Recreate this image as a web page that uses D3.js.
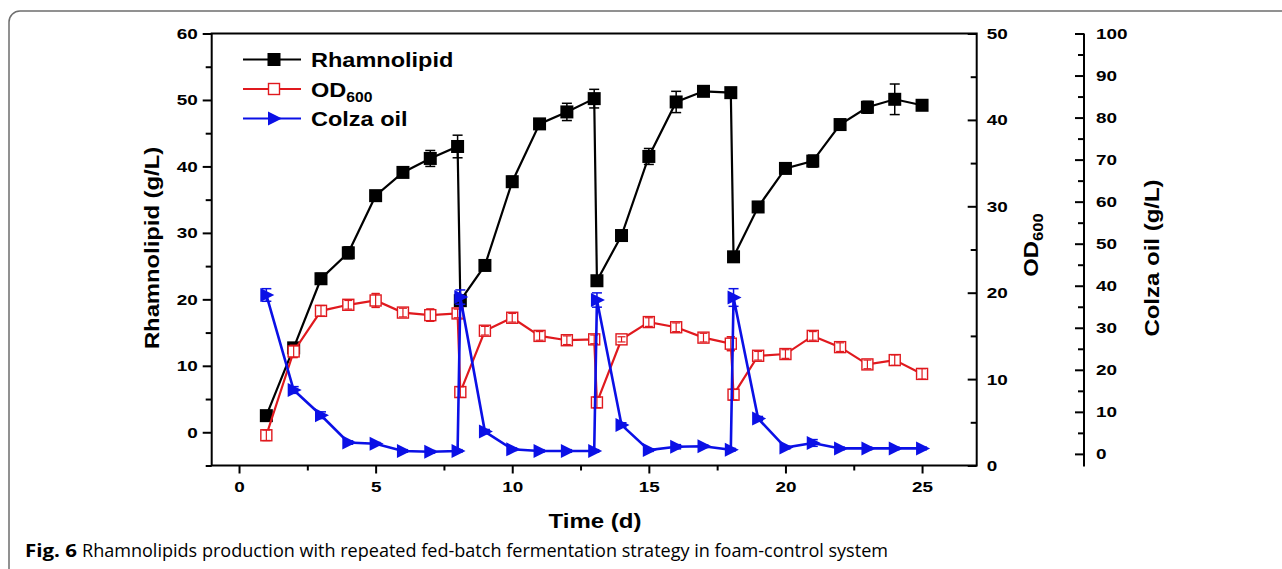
<!DOCTYPE html>
<html>
<head>
<meta charset="utf-8">
<script src="https://cdn.jsdelivr.net/npm/d3@7/dist/d3.min.js"></script>
<style>
  body { margin: 0; background: #fff; }
  svg { display: block; font-family: "Liberation Sans", Arial, sans-serif; }
</style>
</head>
<body>
<svg id="chart"></svg>
<script>
"use strict";

// =================== DATA ===================
// second point at 8.1 / 13.1 / 18.1 = sample right after each feed
const days = [1, 2, 3, 4, 5, 6, 7, 8, 8.1, 9, 10, 11, 12, 13, 13.1, 14, 15, 16, 17, 18, 18.1, 19, 20, 21, 22, 23, 24, 25];
const rhamnolipid = [2.5, 12.7, 23.1, 27.0, 35.6, 39.1, 41.2, 43.0, 19.8, 25.1, 37.7, 46.4, 48.2, 50.2, 22.8, 29.6, 41.5, 49.7, 51.3, 51.1, 26.4, 33.9, 39.7, 40.8, 46.3, 48.9, 50.1, 49.2];
const rhamnolipidErr = [0.4, 0.5, 0.8, 0.9, 0.5, 0.5, 1.2, 1.7, 0.5, 0.5, 0.8, 0.5, 1.3, 1.4, 0.5, 0.5, 1.2, 1.6, 0.5, 0.5, 0.5, 0.8, 0.5, 0.9, 0.5, 0.9, 2.3, 0.5];
const od600 = [3.5, 13.2, 17.9, 18.6, 19.1, 17.7, 17.4, 17.6, 8.5, 15.6, 17.1, 15.0, 14.5, 14.6, 7.3, 14.6, 16.6, 16.0, 14.8, 14.1, 8.2, 12.7, 12.9, 15.0, 13.7, 11.7, 12.2, 10.6];
const od600Err = [0.6, 0.7, 0.6, 0.5, 0.8, 0.5, 0.7, 0.5, 0.6, 0.5, 0.5, 0.5, 0.5, 0.5, 0.6, 0.3, 0.5, 0.5, 0.5, 0.8, 0.6, 0.5, 0.5, 0.5, 0.5, 0.5, 0.6, 0.6];
const colzaOil = [37.8, 15.2, 9.2, 2.7, 2.4, 0.7, 0.5, 0.7, 37.3, 5.3, 1.1, 0.7, 0.7, 0.7, 36.6, 6.9, 0.9, 1.7, 1.8, 1.0, 37.2, 8.4, 1.5, 2.6, 1.3, 1.3, 1.3, 1.3];
const colzaOilErr = [1.5, 0.8, 0.8, 0.4, 0.3, 0.3, 0.3, 0.3, 1.7, 0.5, 0.3, 0.3, 0.3, 0.3, 1.7, 0.5, 0.3, 0.5, 0.3, 0.3, 2.1, 0.5, 0.3, 0.8, 0.3, 0.3, 0.3, 0.3];

const xTicks = [0, 5, 10, 15, 20, 25];
const leftTicks = [0, 10, 20, 30, 40, 50, 60];
const odTicks = [0, 10, 20, 30, 40, 50];
const colzaTicks = [0, 10, 20, 30, 40, 50, 60, 70, 80, 90, 100];

const BLACK = "#000", RED = "#e0191e", BLUE = "#0b10e6";

// =================== SETUP ===================
const W = 1282, H = 569;
const box = { left: 211.7, right: 976.7, top: 33.5, bottom: 465.5 };
const svg = d3.select("#chart").attr("width", W).attr("height", H);

// page frame (only top / left edges fall inside the crop)
svg.append("rect")
  .attr("x", 9).attr("y", 11).attr("width", 1300).attr("height", 600)
  .attr("rx", 11).attr("fill", "none").attr("stroke", "#6e6e6e").attr("stroke-width", 1.5);

// =================== SCALES ===================
const x = d3.scaleLinear().domain([-1, 27]).range([box.left, box.right]);
const yL = d3.scaleLinear().domain([-5, 60]).range([box.bottom, box.top]);
const yOD = d3.scaleLinear().domain([0, 50]).range([box.bottom, box.top]);
const yC = d3.scaleLinear().domain([-3, 100]).range([466.5, 33.5]);

// stretch text horizontally around its anchor (the figure is widened)
function stretch(sel, k) {
  sel.each(function () {
    const t = d3.select(this);
    const x0 = +t.attr("x") || 0;
    t.attr("x", x0 / k).attr("transform", `scale(${k},1)`);
  });
}

function styleAxis(g, k) {
  g.select(".domain").remove();
  g.selectAll("line").attr("stroke", "#000").attr("stroke-width", 2);
  g.selectAll("text")
    .style("font-size", "15.5px").style("font-weight", "700").attr("fill", "#000");
  stretch(g.selectAll("text"), k);
}

const minors = (a, b, step) => d3.range(a, b + 0.001, step);

// =================== AXES ===================
// bottom
const gx = svg.append("g").attr("transform", `translate(0,${box.bottom})`);
gx.append("g").call(d3.axisBottom(x).tickValues(minors(2.5, 22.5, 5)).tickSize(5).tickFormat(""))
  .call(g => styleAxis(g, 1.22));
gx.append("g").call(d3.axisBottom(x).tickValues(xTicks).tickSize(8).tickPadding(8))
  .call(g => styleAxis(g, 1.22));

// left
const gl = svg.append("g").attr("transform", `translate(${box.left},0)`);
gl.append("g").call(d3.axisLeft(yL).tickValues(minors(-5, 55, 10)).tickSize(6).tickFormat(""))
  .call(g => styleAxis(g, 1.22));
gl.append("g").call(d3.axisLeft(yL).tickValues(leftTicks).tickSize(9).tickPadding(5))
  .call(g => styleAxis(g, 1.22));

// right OD600 (ticks inward)
const gr = svg.append("g").attr("transform", `translate(${box.right},0)`);
gr.append("g").call(d3.axisRight(yOD).tickValues(minors(5, 45, 10)).tickSize(-6).tickFormat(""))
  .call(g => styleAxis(g, 1.22));
gr.append("g").call(d3.axisRight(yOD).tickValues(odTicks).tickSize(-9).tickPadding(10))
  .call(g => styleAxis(g, 1.22));

// offset colza oil axis
const cX = 1084;
const gc = svg.append("g").attr("transform", `translate(${cX},0)`);
gc.append("line").attr("x1", 0).attr("x2", 0).attr("y1", 33.5).attr("y2", 466.5)
  .attr("stroke", "#000").attr("stroke-width", 2);
gc.append("g").call(d3.axisRight(yC).tickValues(minors(5, 95, 10)).tickSize(-6).tickFormat(""))
  .call(g => styleAxis(g, 1.22));
gc.append("g").call(d3.axisRight(yC).tickValues(colzaTicks).tickSize(-9).tickPadding(12))
  .call(g => styleAxis(g, 1.22));

// plot box
svg.append("rect")
  .attr("x", box.left).attr("y", box.top)
  .attr("width", box.right - box.left).attr("height", box.bottom - box.top)
  .attr("fill", "none").attr("stroke", "#000").attr("stroke-width", 2);

// =================== SERIES ===================
const plot = svg.append("g");

function errorBars(g, pts, y, color, cap, sw) {
  const eb = g.selectAll(null).data(pts).enter().append("g")
    .attr("stroke", color).attr("stroke-width", sw);
  eb.append("line")
    .attr("x1", p => x(p.d)).attr("x2", p => x(p.d))
    .attr("y1", p => y(p.v - p.e)).attr("y2", p => y(p.v + p.e));
  [-1, 1].forEach(s => {
    eb.append("line")
      .attr("x1", p => x(p.d) - cap).attr("x2", p => x(p.d) + cap)
      .attr("y1", p => y(p.v + s * p.e)).attr("y2", p => y(p.v + s * p.e));
  });
}

function series(vals, errs, y, color, marker) {
  const pts = days.map((d, i) => ({ d, v: vals[i], e: errs[i] }));
  const line = d3.line().x(p => x(p.d)).y(p => y(p.v));
  const g = plot.append("g");
  g.append("path").datum(pts)
    .attr("d", line).attr("fill", "none")
    .attr("stroke", color).attr("stroke-width", marker === "tri" ? 2.6 : 2.2);
  const cap = marker === "open" ? 4 : 5;
  errorBars(g, pts, y, color, cap, 1.5);
  const m = g.selectAll("g.mk").data(pts).enter().append("g")
    .attr("transform", p => `translate(${x(p.d)},${y(p.v)})`);
  drawMarker(m, marker, color);
  // error bar lines show through the open square
  if (marker === "open") errorBars(g, pts, y, color, cap, 1.2);
}

function drawMarker(sel, marker, color) {
  if (marker === "filled") {
    sel.append("rect").attr("x", -6.5).attr("y", -6.5).attr("width", 13).attr("height", 13)
      .attr("fill", color);
  } else if (marker === "open") {
    sel.append("rect").attr("x", -5.5).attr("y", -5.5).attr("width", 11).attr("height", 11)
      .attr("fill", "#fff").attr("stroke", color).attr("stroke-width", 1.4);
  } else {
    sel.append("path").attr("d", "M-6,-7L8,0L-6,7Z").attr("fill", color);
  }
}

series(rhamnolipid, rhamnolipidErr, yL, BLACK, "filled");
series(od600, od600Err, yOD, RED, "open");
series(colzaOil, colzaOilErr, yC, BLUE, "tri");

// =================== LEGEND ===================
const legend = [
  { label: "Rhamnolipid", sub: "", color: BLACK, marker: "filled", y: 59.5 },
  { label: "OD", sub: "600", color: RED, marker: "open", y: 89 },
  { label: "Colza oil", sub: "", color: BLUE, marker: "tri", y: 118.5 }
];
legend.forEach(l => {
  svg.append("line").attr("x1", 243).attr("x2", 301).attr("y1", l.y).attr("y2", l.y)
    .attr("stroke", l.color).attr("stroke-width", 2.2);
  drawMarker(svg.append("g").attr("transform", `translate(274,${l.y})`), l.marker, l.color);
  const t = svg.append("text")
    .attr("transform", `translate(311,${l.y + 7.5}) scale(1.12,1)`)
    .style("font-size", "21px").style("font-weight", "700");
  t.append("tspan").text(l.label);
  if (l.sub) t.append("tspan").attr("dy", 5).style("font-size", "14px").text(l.sub);
});

// =================== TITLES ===================
function title(tx, ty, rot, k, build) {
  const t = svg.append("text")
    .attr("transform", `translate(${tx},${ty}) rotate(${rot}) scale(${k},1)`)
    .attr("text-anchor", "middle")
    .style("font-size", "20px").style("font-weight", "700");
  build(t);
}

title(595, 528, 0, 1.2, t => t.text("Time (d)"));
title(159, 248, -90, 1.19, t => t.text("Rhamnolipid (g/L)"));
title(1038, 245, -90, 1.19, t => {
  t.append("tspan").text("OD");
  t.append("tspan").attr("dy", 5).style("font-size", "14px").text("600");
});
title(1159, 258, -90, 1.2, t => t.text("Colza oil (g/L)"));

// =================== CAPTION ===================
svg.append("text")
  .attr("x", 25).attr("y", 557)
  .style("font-family", "'Open Sans', sans-serif")
  .style("font-size", "18px").style("font-weight", "700")
  .attr("textLength", 52).attr("lengthAdjust", "spacingAndGlyphs")
  .text("Fig. 6");
svg.append("text")
  .attr("x", 82).attr("y", 557)
  .style("font-family", "'Open Sans', sans-serif")
  .style("font-size", "18px")
  .attr("textLength", 806).attr("lengthAdjust", "spacingAndGlyphs")
  .text("Rhamnolipids production with repeated fed-batch fermentation strategy in foam-control system");
</script>
</body>
</html>
